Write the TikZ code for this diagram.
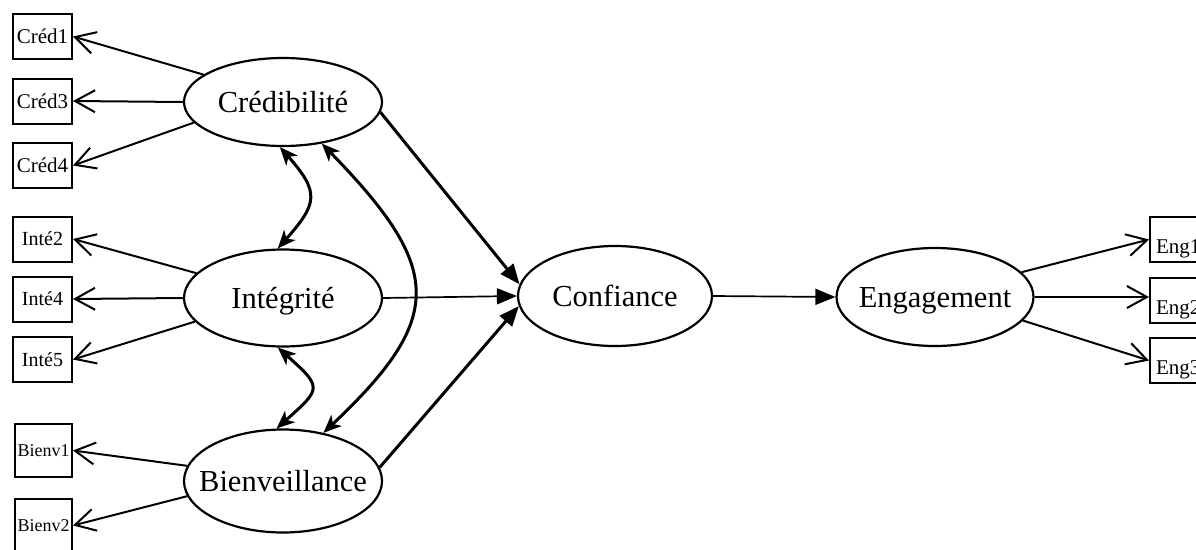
\documentclass[tikz,border=0pt]{standalone}
\usepackage{fontspec}
\setmainfont{Liberation Serif}
\usetikzlibrary{shapes.geometric,arrows.meta}
\newcommand\zw[1]{\makebox[0pt]{#1}}
\begin{document}
\begin{tikzpicture}[x=1pt,y=-1pt,
 latent/.style={ellipse,draw,line width=2.2pt,inner sep=0pt,text height=20pt,text depth=0pt,font=\fontsize{30.5}{34}\selectfont},
 ind/.style={rectangle,draw,line width=2pt,inner sep=0pt,minimum width=59pt,minimum height=45pt},
 indr/.style={rectangle,draw,line width=2pt,inner ysep=0pt,inner xsep=6pt,minimum height=45pt,text width=47pt,text height=28pt,text depth=0pt,align=left,anchor=west,font=\fontsize{21}{24}\selectfont},
 load/.style={line width=2pt,-{Straight Barb[length=20pt,width=22pt]}},
 pathc/.style={line width=3pt,-{Triangle[length=20pt,width=16pt]}},
 thinpath/.style={line width=1.7pt,-{Triangle[length=20pt,width=16pt]}},
 cov/.style={line width=3pt,{Stealth[length=18pt,width=15pt,inset=5pt]}-{Stealth[length=18pt,width=15pt,inset=5pt]}}]
\useasboundingbox (0,0) rectangle (1196,549);
\fill[white] (0,0) rectangle (1196,549);

% latent variables
\node[latent,minimum width=198pt,minimum height=88pt] (cred) at (283,102) {\zw{Crédibilité}};
\node[latent,minimum width=198pt,minimum height=97pt] (inte) at (283,298) {\zw{Intégrité}};
\node[latent,minimum width=198pt,minimum height=103pt] (bienv) at (283,481) {\zw{Bienveillance}};
\node[latent,minimum width=194pt,minimum height=100pt] (conf) at (615,296) {\zw{Confiance}};
\node[latent,minimum width=197pt,minimum height=98pt] (eng) at (935,297) {\zw{Engagement}};

% indicators
\node[ind,font=\fontsize{21}{24}\selectfont] (c1) at (42.5,36.5) {Créd1};
\node[ind,font=\fontsize{21}{24}\selectfont] (c3) at (42.5,101) {Créd3};
\node[ind,font=\fontsize{21}{24}\selectfont] (c4) at (42.5,165.5) {Créd4};
\node[ind,font=\fontsize{20}{23}\selectfont] (i2) at (42.5,239) {Inté2};
\node[ind,font=\fontsize{20}{23}\selectfont] (i4) at (42.5,299) {Inté4};
\node[ind,font=\fontsize{20}{23}\selectfont] (i5) at (42.5,359.5) {Inté5};
\node[ind,minimum width=57pt,minimum height=53pt,font=\fontsize{18}{21}\selectfont] (b1) at (43.5,450.5) {Bienv1};
\node[ind,minimum width=57pt,minimum height=53pt,font=\fontsize{18}{21}\selectfont] (b2) at (43.5,525.5) {Bienv2};
\node[indr] (e1) at (1149,239.5) {Eng1};
\node[indr] (e2) at (1149,300) {Eng2};
\node[indr] (e3) at (1149,360.5) {Eng3};

% loadings
\draw[load] (cred.161) -- (c1.east);
\draw[load] (cred.180) -- (c3.east);
\draw[load] (cred.193) -- (c4.east);
\draw[load] (inte.164) -- (i2.east);
\draw[load] (inte.180) -- (i4.east);
\draw[load] (inte.195) -- (i5.east);
\draw[load] (bienv.171) -- (b1.east);
\draw[load] (bienv.189) -- (b2.east);
\draw[load] (eng.16) -- (e1.west);
\draw[load] (eng.east) -- (eng.east -| e2.west);
\draw[load] (eng.345) -- (e3.west);

% structural paths
\draw[pathc] (cred.354) -- (conf.173);
\draw[thinpath] (inte.east) -- (conf.west);
\draw[pathc] (bienv.8) -- (conf.186);
\draw[thinpath] (conf.east) -- (eng.west);

% covariances
\draw[cov] (cred.266) .. controls +(40,45) and +(40,-45) .. (inte.96);
\draw[cov] (inte.264) .. controls +(45,40) and +(45,-40) .. (bienv.97);
\draw[cov] (cred.313) .. controls +(122,125) and +(122,-115) .. (bienv.50);
\end{tikzpicture}
\end{document}
